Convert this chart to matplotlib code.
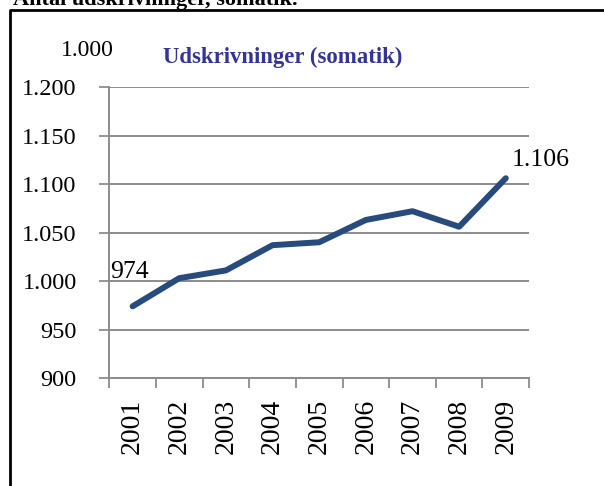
import matplotlib.pyplot as plt
from matplotlib.lines import Line2D
from matplotlib.ticker import FuncFormatter, FixedLocator

# udskrivninger (somatik), 1.000 stk.
years = ['2001', '2002', '2003', '2004', '2005', '2006', '2007', '2008', '2009']
discharges = [974, 1003, 1011, 1037, 1040, 1063, 1072, 1056, 1106]
y_ticks = [900, 950, 1000, 1050, 1100, 1150, 1200]

plt.rcParams['font.family'] = ['Liberation Serif', 'DejaVu Serif']

fig = plt.figure(figsize=(6.04, 4.86), dpi=100)
ax = fig.add_axes([0.181, 0.222, 0.695, 0.599])

x = list(range(len(years)))
ax.plot(x, discharges, color='#264b7c', linewidth=4.3, solid_capstyle='round',
        zorder=3)

ax.set_xlim(-0.5, len(years) - 0.5)
ax.set_ylim(900, 1200)
ax.yaxis.set_major_locator(FixedLocator(y_ticks))
ax.yaxis.set_major_formatter(FuncFormatter(lambda v, p: f'{int(v):,}'.replace(',', '.')))

# category boundaries as tick marks, labels in the middle
ax.set_xticks([i - 0.5 for i in range(len(years) + 1)])
ax.set_xticklabels([])
ax.set_xticks(x, minor=True)
ax.set_xticklabels(years, minor=True, rotation=90, fontsize=20)
ax.tick_params(axis='x', which='minor', length=0, pad=15)
ax.tick_params(axis='x', which='major', length=7, width=1.3, color='#8c8c8c')
ax.tick_params(axis='y', length=7, width=1.3, color='#8c8c8c', labelsize=17.5, pad=16.5)

ax.grid(axis='y', color='#8c8c8c', linewidth=1.4)
ax.set_axisbelow(True)
for side in ['top', 'right']:
    ax.spines[side].set_visible(False)
for side in ['left', 'bottom']:
    ax.spines[side].set_color('#8c8c8c')
    ax.spines[side].set_linewidth(1.4)

# data labels on first and last point
ax.annotate('974', (x[0], discharges[0]), xytext=(-2, 25), textcoords='offset points',
            ha='center', va='center', fontsize=18.5)
ax.annotate('1.106', (x[-1], discharges[-1]), xytext=(25, 13), textcoords='offset points',
            ha='center', va='center', fontsize=18.5)

fig.text(87 / 604, 1 - 50 / 486, '1.000', ha='center', va='center', fontsize=17)
fig.text(283 / 604, 1 - 57 / 486, 'Udskrivninger (somatik)', ha='center', va='center',
         fontsize=16.4, fontweight='bold', color='#333399')

# cut-off heading above the box
fig.text(13 / 604, 1 - 5 / 486, 'Antal udskrivninger, somatik.', ha='left',
         va='baseline', fontsize=16, fontweight='bold')

# frame around the chart (left and top edge visible)
fig.add_artist(Line2D([10 / 604, 10 / 604, 1], [0, 1 - 10 / 486, 1 - 10 / 486],
                      color='black', linewidth=2, transform=fig.transFigure))

fig.savefig('out.png', dpi=100)
